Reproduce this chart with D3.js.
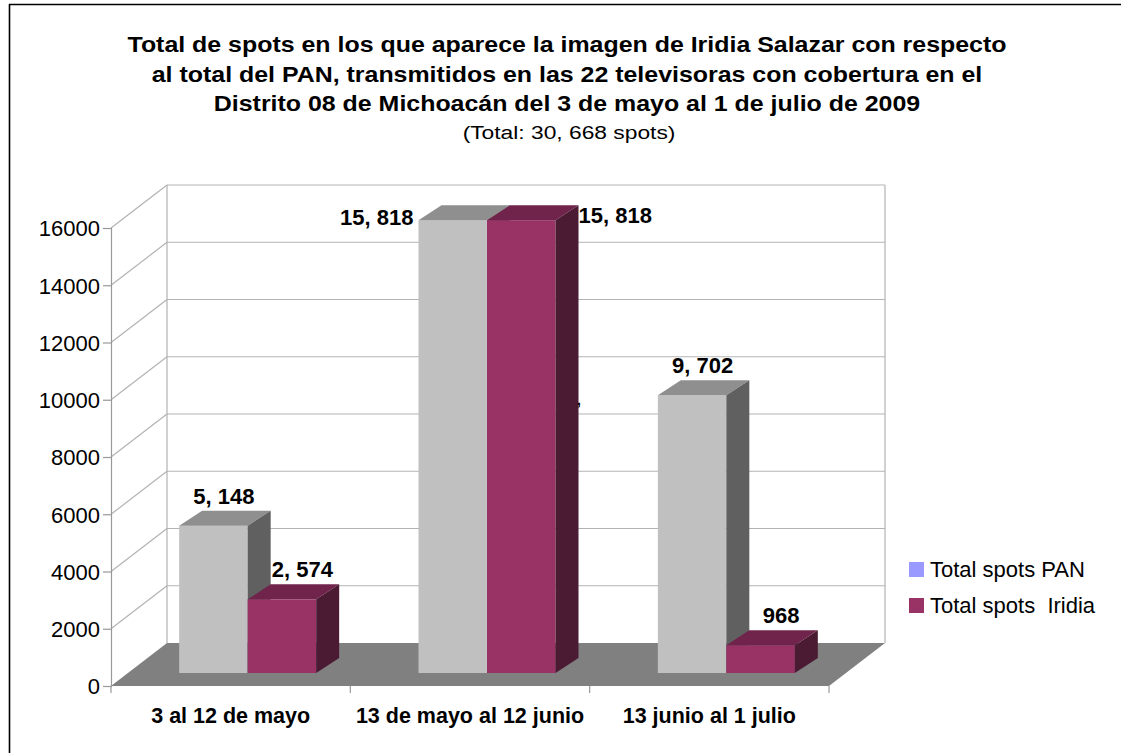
<!DOCTYPE html>
<html>
<head>
<meta charset="utf-8">
<script src="https://cdn.jsdelivr.net/npm/d3@7"></script>
<style>
  body { margin: 0; background: #fff; }
  svg { display: block; font-family: "Liberation Sans", Arial, sans-serif; }
</style>
</head>
<body>
<svg id="chart" width="1121" height="753"></svg>
<script>
const categories = ["3 al 12 de mayo", "13 de mayo al 12 junio", "13 junio al 1 julio"];
const series = ["Total spots PAN", "Total spots  Iridia"];
const panValues = [5148, 15818, 9702];
const iridiaValues = [2574, 15818, 968];
const valueLabels = [["5, 148", "15, 818", "9, 702"], ["2, 574", "15, 818", "968"]];
const yTicks = [0, 2000, 4000, 6000, 8000, 10000, 12000, 14000, 16000];
const titleLines = [
  "Total de spots en los que aparece la imagen de Iridia Salazar con respecto",
  "al total del PAN, transmitidos en las 22 televisoras con cobertura en el",
  "Distrito 08 de Michoacán del  3 de mayo al 1 de julio de 2009"
];
const subtitle = "(Total: 30, 668 spots)";

const svg = d3.select("#chart");

// colours: front / top / side of each series, legend swatch
const faces = [
  {front: "#c0c0c0", top: "#8f8f8f", side: "#606060", legend: "#9999ff"},
  {front: "#993366", top: "#70234b", side: "#4b1a33", legend: "#993366"}
];

// 3d geometry
const depth = {dx: 56, dy: -43};        // floor / wall depth
const barOff = {dx: 17, dy: -13};       // bar front plane from axis plane
const barDepth = {dx: 23, dy: -15};

const y = d3.scaleLinear().domain([0, 16000]).range([686, 228]);
const x = d3.scaleBand().domain(categories).range([111, 829]).paddingInner(0).paddingOuter(0);
const xs = d3.scaleBand().domain(series).range([0, 137]);
const bandPad = (x.bandwidth() - 137) / 2;

// outer frame
svg.append("line").attr("x1", 9.5).attr("x2", 9.5).attr("y1", 4).attr("y2", 753)
  .attr("stroke", "#000").attr("stroke-width", 1.6);
svg.append("line").attr("x1", 9).attr("x2", 1121).attr("y1", 4.5).attr("y2", 4.5)
  .attr("stroke", "#000").attr("stroke-width", 1.6);

// title (source font is a bit wider than Arial, so stretch horizontally)
const title = svg.append("g").attr("font-weight", "bold").attr("font-size", 21.5)
  .attr("text-anchor", "middle").attr("fill", "#000");
titleLines.forEach((t, i) => {
  title.append("text").attr("transform", `translate(567,${52 + i * 29.5}) scale(1.16,1)`).text(t);
});
svg.append("text").attr("transform", "translate(569,139) scale(1.2,1)").attr("text-anchor", "middle")
  .attr("font-size", 19).text(subtitle);

const grid = "#b3b3b3";
const wallLeft = x.range()[0] + depth.dx, wallRight = x.range()[1] + depth.dx;

// back wall gridlines
svg.append("g").selectAll("line").data(yTicks.filter(d => d > 0)).join("line")
  .attr("x1", wallLeft).attr("x2", wallRight)
  .attr("y1", d => y(d) + depth.dy).attr("y2", d => y(d) + depth.dy)
  .attr("stroke", grid).attr("stroke-width", 1.2);
// left wall diagonals
svg.append("g").selectAll("line").data(yTicks.filter(d => d > 0)).join("line")
  .attr("x1", x.range()[0]).attr("x2", wallLeft)
  .attr("y1", d => y(d)).attr("y2", d => y(d) + depth.dy)
  .attr("stroke", grid).attr("stroke-width", 1.2);
// wall edges
[wallLeft, wallRight].forEach(px => {
  svg.append("line").attr("x1", px).attr("x2", px)
    .attr("y1", y(16000) + depth.dy).attr("y2", y(0) + depth.dy)
    .attr("stroke", grid).attr("stroke-width", 1.2);
});

// floor
const f0 = x.range()[0], f1 = x.range()[1], fy = y(0);
svg.append("path")
  .attr("d", `M${f0},${fy}L${f0 + depth.dx},${fy + depth.dy}L${f1 + depth.dx},${fy + depth.dy}L${f1},${fy}Z`)
  .attr("fill", "#808080");

// y axis
const yAxis = svg.append("g").attr("transform", `translate(${x.range()[0]},0)`)
  .call(d3.axisLeft(y).tickValues(yTicks).tickSize(8).tickPadding(3).tickFormat(d3.format("d")));
yAxis.select(".domain").attr("stroke", "#999").attr("stroke-width", 1.2);
yAxis.selectAll(".tick line").attr("stroke", "#999").attr("stroke-width", 1.2);
yAxis.selectAll(".tick text").attr("font-size", 22).attr("font-family", "Liberation Sans, Arial, sans-serif")
  .attr("fill", "#000").attr("dy", "0.36em");

// x axis
const xAxis = svg.append("g").attr("transform", `translate(0,${y(0)})`)
  .call(d3.axisBottom(x).tickSize(0).tickPadding(22));
xAxis.select(".domain").remove();
xAxis.selectAll(".tick text").attr("font-size", 21.5).attr("font-weight", "bold")
  .attr("font-family", "Liberation Sans, Arial, sans-serif").attr("fill", "#000");
svg.append("g").selectAll("line").data(x.domain().map(c => x(c)).concat([x.range()[1]])).join("line")
  .attr("x1", d => d).attr("x2", d => d).attr("y1", y(0)).attr("y2", y(0) + 7)
  .attr("stroke", "#999").attr("stroke-width", 1.2);

// bars
const barData = [];
categories.forEach((c, ci) => {
  [panValues, iridiaValues].forEach((vals, si) => {
    barData.push({cat: c, ci: ci, si: si, value: vals[ci], label: valueLabels[si][ci]});
  });
});

const bars = svg.append("g").selectAll("g").data(barData).join("g");
const yb = v => y(v) + barOff.dy;
function bx(d) { return x(d.cat) + bandPad + xs(series[d.si]) + barOff.dx; }

bars.append("rect")
  .attr("x", d => bx(d)).attr("y", d => yb(d.value))
  .attr("width", xs.bandwidth()).attr("height", d => yb(0) - yb(d.value))
  .attr("fill", d => faces[d.si].front);
bars.append("path")
  .attr("d", d => {
    const x0 = bx(d), x1 = x0 + xs.bandwidth(), t = yb(d.value);
    return `M${x0},${t}L${x0 + barDepth.dx},${t + barDepth.dy}L${x1 + barDepth.dx},${t + barDepth.dy}L${x1},${t}Z`;
  })
  .attr("fill", d => faces[d.si].top);
bars.append("path")
  .attr("d", d => {
    const x1 = bx(d) + xs.bandwidth(), t = yb(d.value), b = yb(0);
    return `M${x1},${t}L${x1 + barDepth.dx},${t + barDepth.dy}L${x1 + barDepth.dx},${b + barDepth.dy}L${x1},${b}Z`;
  })
  .attr("fill", d => faces[d.si].side);

// value labels (the two tall bars had their labels moved aside)
function labelPos(d) {
  const top = yb(d.value) + barDepth.dy;
  const cx = bx(d) + xs.bandwidth() / 2 + barDepth.dx / 2;
  if (d.value === 15818 && d.si === 0) return {x: bx(d) - 5, y: top + 20, anchor: "end"};
  if (d.value === 15818 && d.si === 1) return {x: bx(d) + xs.bandwidth() + barDepth.dx, y: top + 18, anchor: "start"};
  return {x: cx + (d.si === 1 ? 9 : -1), y: top - 7, anchor: "middle"};
}
svg.append("g").selectAll("text").data(barData).join("text")
  .attr("x", d => labelPos(d).x).attr("y", d => labelPos(d).y)
  .attr("text-anchor", d => labelPos(d).anchor)
  .attr("font-size", 22).attr("font-weight", "bold").attr("fill", "#000")
  .text(d => d.label);
// stray separator left over in the source chart
svg.append("text").attr("x", 577).attr("y", 405).attr("font-size", 14).attr("font-weight", "bold").text(",");

// legend
const legend = svg.append("g").selectAll("g").data(series).join("g")
  .attr("transform", (d, i) => `translate(909,${562 + i * 36})`);
legend.append("rect").attr("width", 15).attr("height", 15).attr("fill", (d, i) => faces[i].legend);
legend.append("text").attr("x", 21).attr("y", 14.5).attr("font-size", 22).attr("fill", "#000")
  .style("white-space", "pre").text(d => d);
</script>
</body>
</html>
